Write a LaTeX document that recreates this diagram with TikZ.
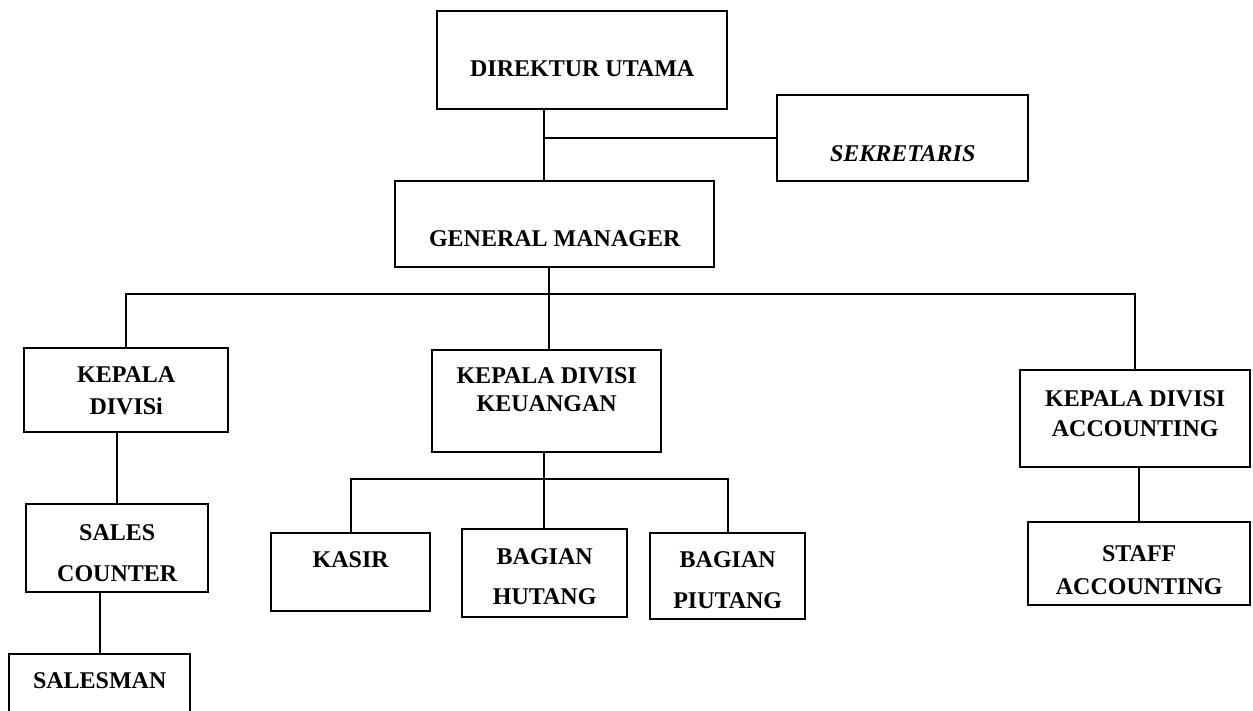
\documentclass[tikz,border=0pt]{standalone}
\usepackage{fontspec}
\setmainfont{Liberation Serif}
\usepackage{tikz}
\tikzset{
  unit/.style={draw=black, line width=1.2pt, inner sep=0pt, anchor=north west, align=center, font=\fontsize{12}{14}\selectfont\bfseries},
  link/.style={draw=black, line width=1pt},
}
\begin{document}
\begin{tikzpicture}[x=0.5pt, y=-0.5pt]
\path[use as bounding box, clip] (0,0) rectangle (1253,711);
\node[unit, minimum width=145pt, text height=32.5pt, text depth=16.5pt] (dirut) at (436,10) {DIREKTUR UTAMA};
\node[unit, minimum width=125.5pt, text height=33pt, text depth=10pt] (sekr) at (776,94) {\itshape SEKRETARIS};
\node[unit, minimum width=159.5pt, text height=32.5pt, text depth=10.5pt] (gm) at (394,180) {GENERAL MANAGER};
\node[unit, minimum width=102pt, text height=33pt, text depth=9pt] (kdiv) at (23,347) {KEPALA\\[2pt]DIVISi};
\node[unit, minimum width=114.5pt, text height=30.5pt, text depth=20.5pt] (kkeu) at (431,349) {KEPALA DIVISI\\KEUANGAN};
\node[unit, minimum width=115pt, text height=33pt, text depth=15.5pt] (kacc) at (1019,369) {KEPALA DIVISI\\[1pt]ACCOUNTING};
\node[unit, minimum width=91pt, text height=38.5pt, text depth=5.5pt] (sales) at (25,503) {SALES\\[6.5pt]COUNTER};
\node[unit, minimum width=90.5pt, text height=17pt, text depth=22pt] (salesman) at (8,653) {SALESMAN};
\node[unit, minimum width=79.5pt, text height=17pt, text depth=22pt] (kasir) at (270,532) {KASIR};
\node[unit, minimum width=82.5pt, text height=37.5pt, text depth=6.5pt] (hutang) at (461,528) {BAGIAN\\[6pt]HUTANG};
\node[unit, minimum width=77.5pt, text height=37.5pt, text depth=5.5pt] (piutang) at (649,532) {BAGIAN\\[6.5pt]PIUTANG};
\node[unit, minimum width=111pt, text height=36pt, text depth=5.5pt] (staff) at (1027,521) {STAFF\\[2.5pt]ACCOUNTING};

\coordinate (sekbus) at (544,138);
\coordinate (divbus) at (549,294);
\coordinate (keubus) at (544,479);
\draw[link] (dirut.south -| sekbus) -- (gm.north -| sekbus);
\draw[link] (sekbus) -- (sekr.west |- sekbus);
\draw[link] (gm.south -| divbus) -- (kkeu.north -| divbus);
\draw[link] (kdiv.north) |- (divbus) -| (kacc.north);
\draw[link] (sales.north) -- (sales.north |- kdiv.south);
\draw[link] (salesman.north) -- (salesman.north |- sales.south);
\draw[link] (kkeu.south -| keubus) -- (hutang.north -| keubus);
\draw[link] (kasir.north) |- (keubus) -| (piutang.north);
\draw[link] (staff.north) -- (staff.north |- kacc.south);
\end{tikzpicture}
\end{document}
